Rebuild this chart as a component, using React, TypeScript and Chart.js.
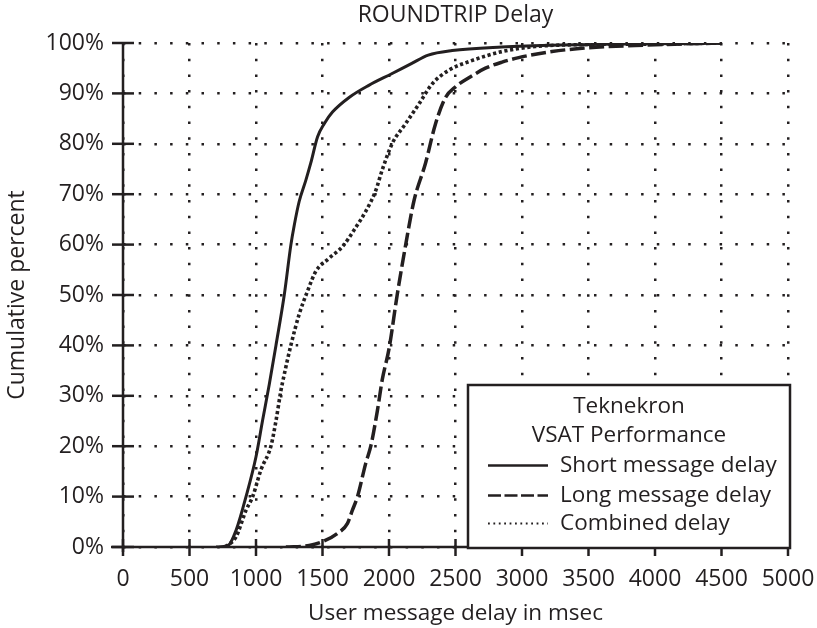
import React, { useEffect, useRef } from 'react';
import { Chart, registerables } from 'chart.js';

Chart.register(...registerables);

// ---- data ----
const shortDelayMs = [700, 790, 850, 925, 1000, 1050, 1100, 1150, 1213, 1262, 1288, 1325, 1375, 1412, 1463, 1513, 1575, 1700, 1848, 2020, 2168, 2295, 2475, 2847, 3300, 3800, 4250, 4500];
const shortCumPct = [0, 0.3, 3.3, 10, 17.9, 25.2, 32.3, 40, 50.1, 59.9, 63.9, 68.6, 72.8, 76.2, 81.4, 84, 86.3, 89.2, 91.6, 93.9, 95.9, 97.6, 98.5, 99.2, 99.6, 99.8, 99.9, 100];

const longDelayMs = [1225, 1400, 1513, 1613, 1688, 1725, 1763, 1825, 1863, 1913, 1950, 2000, 2062, 2125, 2187, 2275, 2350, 2425, 2500, 2625, 2725, 2850, 2975, 3225, 3475, 3850, 4200, 4500];
const longCumPct = [0, 0.3, 1.2, 2.7, 4.7, 7.3, 10, 16.6, 20, 27.1, 33.3, 39.3, 50.1, 59.9, 68.6, 76.2, 84, 89.2, 91.3, 93.5, 95, 96.2, 97.1, 98.3, 99, 99.5, 99.8, 100];

const combinedDelayMs = [770, 850, 925, 975, 1037, 1112, 1150, 1187, 1200, 1262, 1325, 1388, 1450, 1550, 1650, 1750, 1825, 1900, 1950, 2025, 2125, 2225, 2325, 2450, 2600, 2850, 3100, 3500, 4000, 4500];
const combinedCumPct = [0, 2, 7.3, 10, 15.3, 20, 25, 31, 32.7, 40, 46.2, 50.8, 54.7, 57.3, 59.6, 63.4, 66.6, 70.7, 74.9, 80.1, 84, 87.9, 91.9, 94.6, 96.3, 98.3, 99.3, 99.7, 99.8, 100];

const xTickValues = [0, 500, 1000, 1500, 2000, 2500, 3000, 3500, 4000, 4500, 5000];
const yTickValues = [0, 10, 20, 30, 40, 50, 60, 70, 80, 90, 100];

const chartTitle = 'ROUNDTRIP Delay';
const xTitle = 'User message delay in msec';
const yTitle = 'Cumulative percent';
const legendTitle = ['Teknekron', 'VSAT Performance'];
const seriesNames = ['Short message delay', 'Long message delay', 'Combined delay'];

const FONT = "'Open Sans', sans-serif";
const INK = '#231f20';

const toPoints = (xs: number[], ys: number[]) => xs.map((x, i) => ({ x, y: ys[i] }));

const axesAndLegend = {
  id: 'axesAndLegend',
  afterDraw(chart: any) {
    const { ctx, chartArea: a, scales } = chart;
    const xs = scales.x;
    const ys = scales.y;
    ctx.save();
    ctx.strokeStyle = INK;
    ctx.lineWidth = 2.5;
    ctx.lineCap = 'butt';
    ctx.setLineDash([]);
    const line = (x1: number, y1: number, x2: number, y2: number) => {
      ctx.beginPath();
      ctx.moveTo(x1, y1);
      ctx.lineTo(x2, y2);
      ctx.stroke();
    };
    // axes
    line(a.left, a.top - 1, a.left, a.bottom + 5);
    line(a.left - 12, a.bottom, a.right + 1, a.bottom);
    yTickValues.forEach((v) => {
      const y = ys.getPixelForValue(v);
      line(a.left - 11, y, a.left + 11, y);
    });
    xTickValues.forEach((v) => {
      const x = xs.getPixelForValue(v);
      line(x, a.bottom - 8, x, a.bottom + 9);
    });

    // legend box
    const bx = a.left + 345;
    const by = a.top + 342;
    const bw = a.right + 2 - bx;
    const bh = a.bottom + 1 - by;
    ctx.fillStyle = '#ffffff';
    ctx.fillRect(bx, by, bw, bh);
    ctx.lineWidth = 2.5;
    ctx.strokeRect(bx, by, bw, bh);

    ctx.fillStyle = INK;
    ctx.font = `22.5px ${FONT}`;
    ctx.textBaseline = 'alphabetic';
    ctx.textAlign = 'center';
    ctx.fillText(legendTitle[0], bx + bw / 2, by + 28);
    ctx.fillText(legendTitle[1], bx + bw / 2, by + 57);

    ctx.textAlign = 'left';
    const rows = [by + 87, by + 117, by + 145];
    const styles = [
      { w: 2.5, dash: [] as number[] },
      { w: 2.5, dash: [13, 3.5] },
      { w: 1.8, dash: [1.8, 3.6] },
    ];
    rows.forEach((base, i) => {
      ctx.lineWidth = styles[i].w;
      ctx.setLineDash(styles[i].dash);
      line(bx + 20, base - 6.5, bx + 80, base - 6.5);
      ctx.setLineDash([]);
      ctx.fillText(seriesNames[i], bx + 92, base);
    });
    ctx.restore();
  },
};

export default function App() {
  const canvasRef = useRef<HTMLCanvasElement | null>(null);

  useEffect(() => {
    document.body.style.margin = '0';
    const canvas = canvasRef.current;
    if (!canvas) return;
    const tickFont = { family: FONT, size: 23 };
    const chart = new Chart(canvas, {
      type: 'line',
      data: {
        datasets: [
          {
            label: seriesNames[0],
            data: toPoints(shortDelayMs, shortCumPct),
            borderColor: INK,
            borderWidth: 3,
            pointRadius: 0,
            cubicInterpolationMode: 'monotone',
            fill: false,
          },
          {
            label: seriesNames[1],
            data: toPoints(longDelayMs, longCumPct),
            borderColor: INK,
            borderWidth: 3.5,
            borderDash: [15, 4.5],
            pointRadius: 0,
            cubicInterpolationMode: 'monotone',
            fill: false,
          },
          {
            label: seriesNames[2],
            data: toPoints(combinedDelayMs, combinedCumPct),
            borderColor: INK,
            borderWidth: 3.6,
            borderDash: [3.2, 2.6],
            pointRadius: 0,
            cubicInterpolationMode: 'monotone',
            fill: false,
          },
        ],
      },
      options: {
        responsive: false,
        animation: false,
        devicePixelRatio: 1,
        layout: { padding: { top: 0, right: 29, bottom: 0, left: 0 } },
        plugins: {
          legend: { display: false },
          tooltip: { enabled: false },
          title: {
            display: true,
            fullSize: false,
            text: chartTitle,
            color: INK,
            font: { family: FONT, size: 23, weight: 'normal' },
            padding: { top: 1.3, bottom: 14.1 },
          },
        },
        scales: {
          x: {
            type: 'linear',
            min: 0,
            max: 5000,
            afterFit: (s: any) => {
              s.height = 81;
              s.paddingLeft = 0;
              s.paddingRight = 0;
            },
            ticks: {
              stepSize: 500,
              autoSkip: false,
              maxRotation: 0,
              padding: 18.3,
              color: INK,
              font: tickFont,
              callback: (v: any) => String(v),
            },
            grid: { color: INK, lineWidth: 2.5, drawTicks: false },
            border: { display: false, dash: [2.5, 13.2] },
            title: {
              display: true,
              text: xTitle,
              color: INK,
              font: { family: FONT, size: 22.5 },
              padding: { top: 0, bottom: 1.1 },
            },
          },
          y: {
            type: 'linear',
            min: 0,
            max: 100,
            afterFit: (s: any) => {
              s.width = 123;
              s.paddingTop = 0;
              s.paddingBottom = 0;
            },
            ticks: {
              stepSize: 10,
              padding: 19,
              color: INK,
              font: tickFont,
              callback: (v: any) => `${v}%`,
            },
            grid: { color: INK, lineWidth: 2.5, drawTicks: false },
            border: { display: false, dash: [2.5, 13.2] },
            title: {
              display: true,
              text: yTitle,
              color: INK,
              font: { family: FONT, size: 23 },
              padding: { top: 3.3, bottom: 0 },
            },
          },
        },
      },
      plugins: [axesAndLegend],
    } as any);
    return () => chart.destroy();
  }, []);

  return (
    <div style={{ width: 817, height: 628 }}>
      <canvas ref={canvasRef} width={817} height={628} style={{ display: 'block' }} />
    </div>
  );
}
